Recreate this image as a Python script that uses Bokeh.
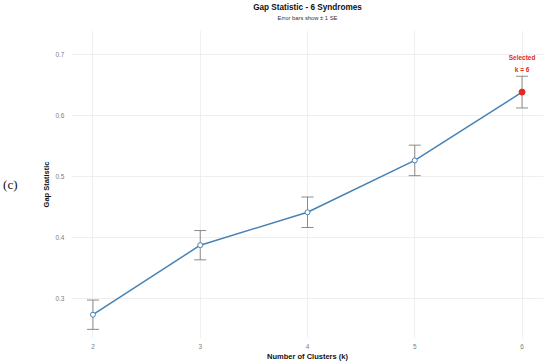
from bokeh.plotting import figure
from bokeh.models import Title, FixedTicker, ColumnDataSource, Whisker, Range1d, LinearAxis
from bokeh.core.properties import value
from bokeh.embed import file_html
from bokeh.resources import INLINE

# ---- data ----
k_values = [2, 3, 4, 5, 6]
gap_values = [0.274, 0.388, 0.442, 0.527, 0.639]
se_values = [0.024, 0.024, 0.025, 0.025, 0.026]
selected_k = 6
x_ticks = [2, 3, 4, 5, 6]
y_ticks = [0.3, 0.4, 0.5, 0.6, 0.7]

FONT = "Liberation Sans"
BLUE = "#4682B4"
RED = "#E5291C"

lower = [g - s for g, s in zip(gap_values, se_values)]
upper = [g + s for g, s in zip(gap_values, se_values)]
src = ColumnDataSource(dict(k=k_values, gap=gap_values, lower=lower, upper=upper))

sel_i = k_values.index(selected_k)
others = [i for i in range(len(k_values)) if i != sel_i]
src_other = ColumnDataSource(dict(k=[k_values[i] for i in others], gap=[gap_values[i] for i in others]))
src_sel = ColumnDataSource(dict(k=[k_values[sel_i]], gap=[gap_values[sel_i]], top=[upper[sel_i]]))

p = figure(width=550, height=364, output_backend="svg", toolbar_location=None,
           x_range=Range1d(1.8, 6.2), y_range=Range1d(0.235, 0.74),
           min_border_left=67, min_border_right=7, min_border_top=30, min_border_bottom=26,
           title=None)
p.outline_line_color = None
p.background_fill_color = "white"
p.border_fill_color = "white"

# grid
p.xgrid.grid_line_color = "#ebebeb"
p.ygrid.grid_line_color = "#ebebeb"
p.xgrid.grid_line_width = 0.8
p.ygrid.grid_line_width = 0.8

# axes
p.xaxis.ticker = FixedTicker(ticks=x_ticks)
p.yaxis.ticker = FixedTicker(ticks=y_ticks)
for ax in (p.xaxis, p.yaxis):
    ax.axis_line_color = None
    ax.major_tick_line_color = None
    ax.minor_tick_line_color = None
    ax.major_tick_out = 0
    ax.major_tick_in = 0
    ax.major_label_text_font = FONT
    ax.major_label_text_font_size = "6.5px"
    ax.major_label_text_color = "#808080"
    ax.axis_label_text_font = FONT
    ax.axis_label_text_font_size = "7.5px"
    ax.axis_label_text_font_style = "bold"
    ax.axis_label_text_color = "#111111"
p.xaxis.axis_label = "Number of Clusters (k)"
p.yaxis.axis_label = "Gap Statistic"
p.xaxis.major_label_standoff = 5
p.xaxis.axis_label_standoff = 0
p.yaxis.major_label_standoff = 7
p.yaxis.axis_label_standoff = 1

# subtitle as a tick-less axis label just above the frame (added after styling)
sub_axis = LinearAxis(ticker=FixedTicker(ticks=[]), axis_label="Error bars show \u00b1 1 SE",
                      axis_label_text_font=FONT, axis_label_text_font_size="5.8px",
                      axis_label_text_font_style="normal", axis_label_text_color="#333333",
                      axis_label_standoff=10, major_label_text_font_size="0px",
                      major_tick_out=0, major_tick_in=0,
                      axis_line_color=None, major_tick_line_color=None,
                      minor_tick_line_color=None)
p.add_layout(sub_axis, "above")
p.add_layout(Title(text="Gap Statistic - 6 Syndromes", text_font=FONT, text_font_size="8.2px",
                   text_font_style="bold", text_color="#111111", align="center",
                   standoff=0, offset=0), "above")

# panel letter as an extra, tick-less left axis label
letter_axis = LinearAxis(ticker=FixedTicker(ticks=[]), axis_label="(c)",
                         axis_label_orientation="horizontal",
                         axis_label_text_font="Liberation Serif",
                         axis_label_text_font_size="13px",
                         axis_label_text_font_style="normal",
                         axis_label_text_color="#111111",
                         axis_label_standoff=22,
                         major_tick_out=0, major_tick_in=0,
                         axis_line_color=None, major_tick_line_color=None,
                         minor_tick_line_color=None)
p.add_layout(letter_axis, "left")

# error bars
wh = Whisker(source=src, base="k", upper="upper", lower="lower", dimension="height",
             line_color="#7f7f7f", line_width=0.9)
wh.upper_head.size = 12
wh.lower_head.size = 12
wh.upper_head.line_color = "#7f7f7f"
wh.lower_head.line_color = "#7f7f7f"
wh.upper_head.line_width = 0.9
wh.lower_head.line_width = 0.9
p.add_layout(wh)

# line and points
p.line("k", "gap", source=src, line_color=BLUE, line_width=1.5)
p.scatter("k", "gap", source=src_other, size=5, fill_color="white", line_color=BLUE, line_width=1)
p.scatter("k", "gap", source=src_sel, size=6, fill_color=RED, line_color=RED, line_width=1)

# selected annotation
p.text("k", "top", source=src_sel, text=value("k = 6"), text_font=value(FONT),
       text_font_size="6.5px", text_font_style="bold", text_color=RED,
       text_align="center", text_baseline="middle", y_offset=-7)
p.text("k", "top", source=src_sel, text=value("Selected"), text_font=value(FONT),
       text_font_size="6.5px", text_font_style="bold", text_color=RED,
       text_align="center", text_baseline="middle", y_offset=-19)

open("out.html", "w").write(file_html(p, INLINE))
